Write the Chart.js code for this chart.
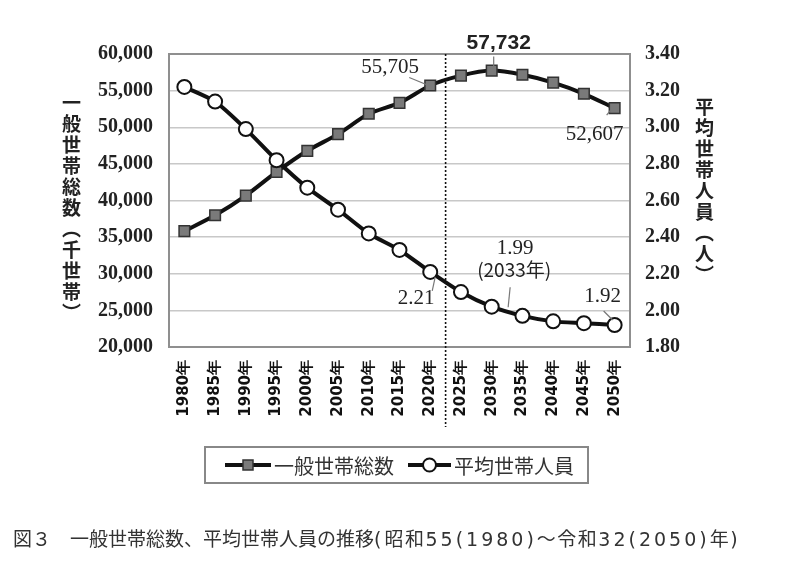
<!DOCTYPE html>
<html><head><meta charset="utf-8">
<script src="https://cdn.jsdelivr.net/npm/chart.js@4.4.1/dist/chart.umd.min.js"></script>
<style>
html,body{margin:0;padding:0;background:#fff;width:800px;height:562px;overflow:hidden}
#wrap{position:relative;width:800px;height:562px}
#c{position:absolute;left:0;top:0}
.vt{position:absolute;writing-mode:vertical-rl;font-family:"Noto Sans CJK JP";font-weight:bold;font-size:19px;color:#222;line-height:1;letter-spacing:2px}
#cap{position:absolute;left:13px;top:524px;font-family:"Noto Sans CJK JP";font-size:19px;color:#333;white-space:nowrap}
#cap .t{letter-spacing:1.5px}
#cap .a{font-family:"DejaVu Sans";font-size:19px;letter-spacing:3px}
</style></head>
<body>
<div id="wrap">
<canvas id="c" width="800" height="562"></canvas>
<div class="vt" id="lt" style="left:62px;top:93px">一般世帯総数（千世帯）</div>
<div class="vt" id="rt" style="left:695px;top:97px">平均世帯人員（人）</div>
<div id="cap">図３　一般世帯総数、平均世帯人員の推移<span class="t"><span class="a">(</span>昭和<span class="a">55(1980)</span>～令和<span class="a">32(2050)</span>年<span class="a">)</span></span></div>
</div>
<script>
const years = ['1980年','1985年','1990年','1995年','2000年','2005年','2010年','2015年','2020年','2025年','2030年','2035年','2040年','2045年','2050年'];
const households = [35824,37980,40670,43900,46782,49063,51842,53332,55705,57043,57732,57164,56088,54566,52607];
const avgSize = [3.22,3.14,2.99,2.82,2.67,2.55,2.42,2.33,2.21,2.10,2.02,1.97,1.94,1.93,1.92];
const leftTicks = {min:20000,max:60000,step:5000};
const rightTicks = {min:1.8,max:3.4,step:0.2};
const seriesNames = ['一般世帯総数','平均世帯人員'];
const peak2033 = {year:2033, value:1.99, label:'(2033年)'};

const fmt = v => Math.round(v).toLocaleString('en-US');
const numFont = '"Liberation Serif", serif';

const overlay = {
  id:'overlay',
  beforeDatasetsDraw(chart){
    const {ctx, chartArea:a} = chart;
    ctx.save();
    ctx.strokeStyle = '#8f8f8f'; ctx.lineWidth = 2;
    ctx.strokeRect(a.left, a.top, a.right-a.left, a.bottom-a.top);
    const xs = chart.scales.x;
    const xm = (xs.getPixelForValue(8)+xs.getPixelForValue(9))/2;
    ctx.strokeStyle = '#111'; ctx.lineWidth = 1.6; ctx.setLineDash([2,2]);
    ctx.beginPath(); ctx.moveTo(xm, a.top); ctx.lineTo(xm, 427); ctx.stroke();
    ctx.restore();
  },
  afterDatasetsDraw(chart){
    const {ctx} = chart;
    const xs = chart.scales.x, yl = chart.scales.y, yr = chart.scales.y1;
    const P = (i, s) => s==='h' ? [xs.getPixelForValue(i), yl.getPixelForValue(households[i])] : [xs.getPixelForValue(i), yr.getPixelForValue(avgSize[i])];
    const notes = [
      {p:P(8,'h'), t:fmt(households[8]), dx:-40, dy:-18, l:[[-21,-8],[-4,-1]], b:false},
      {p:P(10,'h'), t:fmt(households[10]), dx:7, dy:-27, l:[[2,-14],[2,-4]], b:true},
      {p:P(14,'h'), t:fmt(households[14]), dx:-20, dy:26, l:[[-8,7],[-4,2]], b:false},
      {p:P(8,'a'), t:avgSize[8].toFixed(2), dx:-14, dy:27, l:[[2,19],[5,5]], b:false},
      {p:P(14,'a'), t:avgSize[14].toFixed(2), dx:-12, dy:-29, l:[[-11,-14],[-2,-5]], b:false}
    ];
    const f = (peak2033.year-2030)/5;
    const x33 = xs.getPixelForValue(10) + f*(xs.getPixelForValue(11)-xs.getPixelForValue(10));
    const y33 = yr.getPixelForValue(peak2033.value);
    ctx.save();
    ctx.textAlign='center'; ctx.textBaseline='middle'; ctx.fillStyle='#222';
    ctx.strokeStyle='#777'; ctx.lineWidth=1.2;
    for(const n of notes){
      const [x,y]=n.p;
      ctx.beginPath(); ctx.moveTo(x+n.l[0][0], y+n.l[0][1]); ctx.lineTo(x+n.l[1][0], y+n.l[1][1]); ctx.stroke();
      ctx.font = (n.b?'bold 21px "Liberation Sans Narrow", "Liberation Sans", sans-serif':'21px '+numFont);
      ctx.fillText(n.t, x+n.dx, y+n.dy);
    }
    ctx.beginPath(); ctx.moveTo(x33, y33-25); ctx.lineTo(x33-2, y33-5); ctx.stroke();
    ctx.font='21px '+numFont;
    ctx.fillText(peak2033.value.toFixed(2), x33+5, y33-64);
    ctx.font='19px "Noto Sans CJK JP"';
    ctx.fillText(peak2033.label, x33+4, y33-42);
    ctx.restore();
  },
  afterDraw(chart){
    const {ctx} = chart;
    const ds = chart.data.datasets;
    ctx.save();
    ctx.strokeStyle='#888'; ctx.lineWidth=2;
    ctx.strokeRect(205,447,383,36);
    const items = [{x0:225,x1:271,tx:274},{x0:408,x1:451,tx:454}];
    items.forEach((it,k)=>{
      const d = ds.find(z=>z.label===seriesNames[k]);
      const cy=465, cx=(it.x0+it.x1)/2;
      ctx.strokeStyle='#111'; ctx.lineWidth=4;
      ctx.beginPath(); ctx.moveTo(it.x0,cy); ctx.lineTo(it.x1,cy); ctx.stroke();
      ctx.fillStyle=d.pointBackgroundColor; ctx.strokeStyle=d.pointBorderColor; ctx.lineWidth=d.pointBorderWidth;
      if(d.pointStyle==='rect'){ ctx.fillRect(cx-5,cy-5,10,10); ctx.strokeRect(cx-5,cy-5,10,10); }
      else { ctx.beginPath(); ctx.arc(cx,cy,6.5,0,Math.PI*2); ctx.fill(); ctx.stroke(); }
      ctx.fillStyle='#333'; ctx.font='20px "Noto Sans CJK JP"'; ctx.textAlign='left'; ctx.textBaseline='middle';
      ctx.fillText(d.label, it.tx, cy+1);
    });
    ctx.restore();
  }
};

new Chart(document.getElementById('c'), {
  type:'line',
  data:{
    labels: years,
    datasets:[
      {label:seriesNames[1], data:avgSize, yAxisID:'y1', order:0,
       borderColor:'#111', borderWidth:4, tension:0.25,
       pointStyle:'circle', pointRadius:7, pointBackgroundColor:'#fff', pointBorderColor:'#111', pointBorderWidth:2},
      {label:seriesNames[0], data:households, yAxisID:'y', order:1,
       borderColor:'#111', borderWidth:4, tension:0.25,
       pointStyle:'rect', pointRadius:7.5, pointBackgroundColor:'#7a7a7a', pointBorderColor:'#333', pointBorderWidth:1.5}
    ]
  },
  options:{
    responsive:false, animation:false, devicePixelRatio:1,
    layout:{padding:{top:54,left:0,right:0,bottom:0}},
    plugins:{legend:{display:false}, tooltip:{enabled:false}},
    scales:{
      x:{offset:true, grid:{display:false}, border:{display:false},
         ticks:{font:{family:'"DejaVu Sans"', size:15, weight:'bold'}, color:'#111', maxRotation:90, minRotation:90, padding:5, autoSkip:false},
         afterFit(s){ s.height = 215; }},
      y:{position:'left', min:leftTicks.min, max:leftTicks.max,
         ticks:{stepSize:leftTicks.step, callback:v=>fmt(v), font:{family:numFont, size:20, weight:'bold'}, color:'#222', padding:16},
         grid:{color:'#c8c8c8', lineWidth:1.5, drawTicks:false}, border:{display:false},
         afterFit(s){ s.width = 169; }},
      y1:{position:'right', min:rightTicks.min, max:rightTicks.max,
         ticks:{stepSize:rightTicks.step, callback:v=>v.toFixed(2), font:{family:numFont, size:20, weight:'bold'}, color:'#222', padding:15},
         grid:{drawOnChartArea:false, drawTicks:false}, border:{display:false},
         afterFit(s){ s.width = 170; }}
    }
  },
  plugins:[overlay]
});
</script>
</body></html>
